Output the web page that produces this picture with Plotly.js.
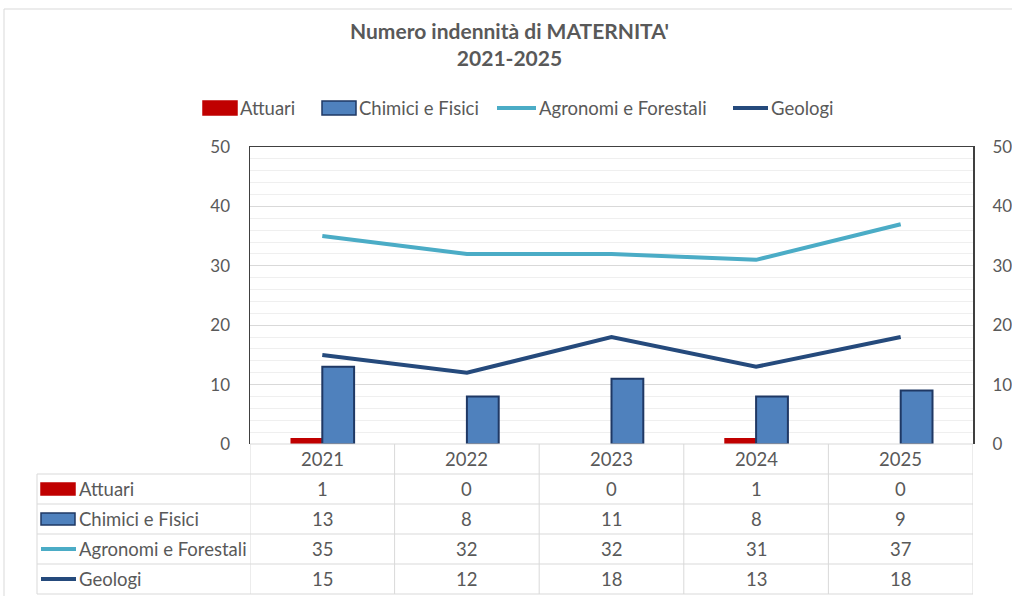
<!DOCTYPE html>
<html>
<head>
<meta charset="utf-8">
<script src="https://cdn.plot.ly/plotly-3.0.1.min.js"></script>
<style>
  html, body { margin: 0; padding: 0; background: #ffffff; }
  #chart { width: 1012px; height: 596px; }
</style>
</head>
<body>
<div id="chart"></div>
<script>
// ---- data ----
const titleText = "Numero indennità di MATERNITA'<br>2021-2025";
const categories = ['2021', '2022', '2023', '2024', '2025'];
const attuari = [1, 0, 0, 1, 0];
const chimiciFisici = [13, 8, 11, 8, 9];
const agronomiForestali = [35, 32, 32, 31, 37];
const geologi = [15, 12, 18, 13, 18];
const seriesNames = ['Attuari', 'Chimici e Fisici', 'Agronomi e Forestali', 'Geologi'];

// ---- styles ----
const FONT = 'Lato, "Open Sans", sans-serif';
const GRAY = '#595959';
const RED = '#c00000';
const BLUE = '#4f81bd';
const BLUE_EDGE = '#1f3864';
const CYAN = '#4bacc6';
const NAVY = '#254a7c';
const TXT = 18.5;

const W = 1012, H = 596;
const L = 250, R = 973, T = 147, B = 444;
const px = v => (v - L) / (R - L);
const py = v => (B - v) / (B - T);

const traces = [
  { type: 'bar', name: seriesNames[0], x: categories, y: attuari,
    marker: { color: RED, line: { color: RED, width: 0 } }, yaxis: 'y', showlegend: false, hoverinfo: 'skip' },
  { type: 'bar', name: seriesNames[1], x: categories, y: chimiciFisici,
    marker: { color: BLUE, line: { color: BLUE_EDGE, width: 2 } }, yaxis: 'y', showlegend: false, hoverinfo: 'skip' },
  { type: 'scatter', mode: 'lines', name: seriesNames[2], x: categories, y: agronomiForestali,
    line: { color: CYAN, width: 4 }, yaxis: 'y2', showlegend: false, hoverinfo: 'skip' },
  { type: 'scatter', mode: 'lines', name: seriesNames[3], x: categories, y: geologi,
    line: { color: NAVY, width: 4 }, yaxis: 'y2', showlegend: false, hoverinfo: 'skip' }
];

const shapes = [];
const annotations = [];

// title (as annotation for exact placement)
annotations.push({ xref: 'paper', yref: 'paper', x: px(509), y: py(44), xanchor: 'center', yanchor: 'middle',
  text: '<b>' + titleText.replace('<br>', '</b><br><b>') + '</b>', showarrow: false, align: 'center',
  font: { family: FONT, size: 21, color: GRAY } });

// outer chart border
shapes.push({ type: 'rect', xref: 'paper', yref: 'paper', x0: px(4), x1: px(W + 10), y0: py(9), y1: py(H + 10),
  line: { color: '#d9d9d9', width: 1 }, fillcolor: 'rgba(0,0,0,0)', layer: 'below' });

// ---- custom legend ----
const legendItems = [
  { kind: 'bar', color: RED, edge: RED, x0: 203, x1: 237 },
  { kind: 'bar', color: BLUE, edge: BLUE_EDGE, x0: 322, x1: 356 },
  { kind: 'line', color: CYAN, x0: 497, x1: 536 },
  { kind: 'line', color: NAVY, x0: 733, x1: 768 }
];
const legY = 108;
legendItems.forEach((it, i) => {
  if (it.kind === 'bar') {
    shapes.push({ type: 'rect', xref: 'paper', yref: 'paper', x0: px(it.x0), x1: px(it.x1), y0: py(legY - 7), y1: py(legY + 7),
      fillcolor: it.color, line: { color: it.edge, width: 1.5 } });
  } else {
    shapes.push({ type: 'line', xref: 'paper', yref: 'paper', x0: px(it.x0), x1: px(it.x1), y0: py(legY), y1: py(legY),
      line: { color: it.color, width: 4 } });
  }
  annotations.push({ xref: 'paper', yref: 'paper', x: px(it.x1 + 1), y: py(legY), xanchor: 'left', yanchor: 'middle',
    text: seriesNames[i], showarrow: false, font: { family: FONT, size: TXT, color: GRAY } });
});

// ---- data table ----
const rowTops = [474, 504, 534, 564];
const rowH = 30;
const tableLeft = 37;
const rows = [attuari, chimiciFisici, agronomiForestali, geologi];
const lineColor = '#d9d9d9';

// horizontal lines
shapes.push({ type: 'line', xref: 'x', yref: 'paper', x0: -0.5, x1: categories.length - 0.5, y0: py(444), y1: py(444),
  line: { color: lineColor, width: 1 } });
[474, 504, 534, 564, 594].forEach(yy => {
  shapes.push({ type: 'line', xref: 'paper', yref: 'paper', x0: px(tableLeft), x1: 1, y0: py(yy), y1: py(yy),
    line: { color: lineColor, width: 1 } });
});
// vertical lines
shapes.push({ type: 'line', xref: 'paper', yref: 'paper', x0: px(tableLeft), x1: px(tableLeft), y0: py(474), y1: py(594),
  line: { color: lineColor, width: 1 } });
for (let j = 0; j <= categories.length; j++) {
  shapes.push({ type: 'line', xref: 'x', yref: 'paper', x0: j - 0.5, x1: j - 0.5, y0: py(444), y1: py(594),
    line: { color: lineColor, width: 1 } });
}
// header (years) - positioned by category index on the x axis
categories.forEach((c, j) => {
  annotations.push({ xref: 'x', yref: 'paper', x: j, y: py(459), xanchor: 'center', yanchor: 'middle',
    text: c, showarrow: false, font: { family: FONT, size: TXT, color: GRAY } });
});
// rows
rows.forEach((vals, i) => {
  const cy = rowTops[i] + rowH / 2;
  const it = legendItems[i];
  if (it.kind === 'bar') {
    shapes.push({ type: 'rect', xref: 'paper', yref: 'paper', x0: px(41), x1: px(75), y0: py(cy - 6), y1: py(cy + 6),
      fillcolor: it.color, line: { color: it.edge, width: 1.5 } });
  } else {
    shapes.push({ type: 'line', xref: 'paper', yref: 'paper', x0: px(41), x1: px(76), y0: py(cy), y1: py(cy),
      line: { color: it.color, width: 4 } });
  }
  annotations.push({ xref: 'paper', yref: 'paper', x: px(77), y: py(cy), xanchor: 'left', yanchor: 'middle',
    text: seriesNames[i], showarrow: false, font: { family: FONT, size: TXT, color: GRAY } });
  vals.forEach((v, j) => {
    annotations.push({ xref: 'x', yref: 'paper', x: j, y: py(cy), xanchor: 'center', yanchor: 'middle',
      text: String(v), showarrow: false, font: { family: FONT, size: TXT, color: GRAY } });
  });
});

const yCommon = {
  range: [0, 50], dtick: 10, tick0: 0, fixedrange: true,
  tickfont: { family: FONT, size: 17, color: GRAY },
  ticks: 'outside', ticklen: 15, tickcolor: 'rgba(0,0,0,0)',
  zeroline: false
};

const layout = {
  width: W, height: H,
  margin: { l: L, r: W - R, t: T, b: H - B, pad: 0 },
  paper_bgcolor: '#ffffff', plot_bgcolor: '#ffffff',
  font: { family: FONT, color: GRAY },
  showlegend: false,
  barmode: 'group', bargap: 0.56, bargroupgap: 0,
  xaxis: { type: 'category', range: [-0.5, categories.length - 0.5], showticklabels: false, side: 'top',
    showline: true, linecolor: '#404040', linewidth: 1.5, showgrid: false, zeroline: false, ticks: '', fixedrange: true },
  yaxis: Object.assign({}, yCommon, {
    side: 'left', showgrid: true, gridcolor: '#d9d9d9', gridwidth: 1,
    minor: { dtick: 2, showgrid: true, gridcolor: '#efefef', gridwidth: 1, ticks: '' },
    showline: true, linecolor: '#404040', linewidth: 1.5, mirror: true
  }),
  yaxis2: Object.assign({}, yCommon, {
    side: 'right', overlaying: 'y', showgrid: false, showline: false
  }),
  shapes: shapes,
  annotations: annotations
};

Plotly.newPlot('chart', traces, layout, { staticPlot: true, displayModeBar: false });
</script>
</body>
</html>
